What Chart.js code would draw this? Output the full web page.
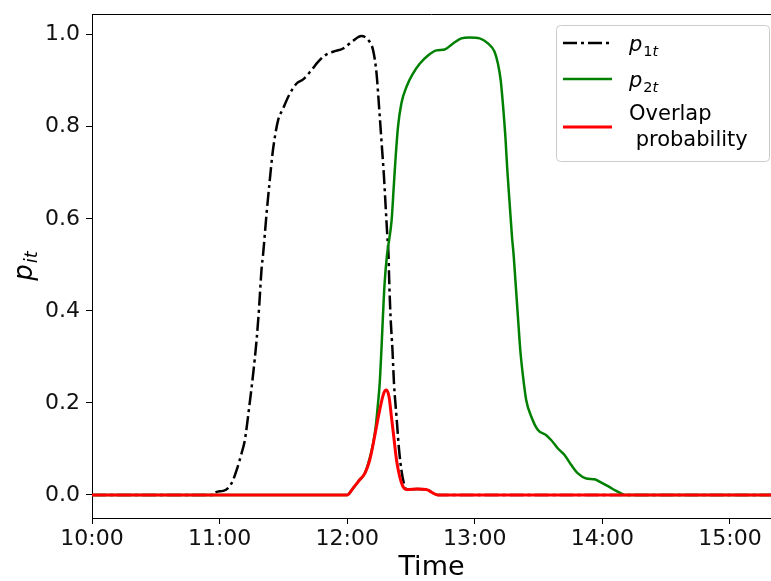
<!DOCTYPE html>
<html>
<head>
<meta charset="utf-8">
<script src="https://cdn.jsdelivr.net/npm/chart.js@4.4.0/dist/chart.umd.min.js"></script>
<style>
    html, body { margin: 0; padding: 0; background: #fff; }
    #wrap { width: 771px; height: 581px; }
</style>
</head>
<body>
<div id="wrap"><canvas id="pChart" width="771" height="581"></canvas></div>
<script>
// times are minutes after 10:00
const p1Times = [0, 57.3, 57.8, 61.7, 65.6, 68.0, 70.3, 71.9, 73.9, 75.8, 77.4, 78.6, 79.7, 80.5, 82.1, 83.6, 84.9, 86.0, 87.5, 89.9, 92.7, 96.2, 99.3, 103.2, 106.3, 109.5, 113.4, 118.1, 122.8, 126.7, 129.8, 132.2, 133.8, 135.0, 136.1, 137.2, 138.1, 138.9, 139.4, 139.8, 140.4, 141.3, 142.0, 143.2, 144.4, 145.5, 147.1, 148.1, 153.0, 157.2, 160.4, 162.6, 319.3];
const p1Values = [0, 0, 0.005, 0.009, 0.025, 0.054, 0.09, 0.12, 0.19, 0.264, 0.337, 0.409, 0.489, 0.525, 0.612, 0.684, 0.742, 0.778, 0.814, 0.840, 0.869, 0.894, 0.903, 0.923, 0.941, 0.955, 0.963, 0.970, 0.987, 0.997, 0.989, 0.966, 0.916, 0.843, 0.771, 0.699, 0.626, 0.561, 0.525, 0.460, 0.387, 0.315, 0.243, 0.170, 0.098, 0.054, 0.018, 0.012, 0.013, 0.012, 0.004, 0, 0];

const p2Times = [0, 120.0, 122.8, 125.9, 128.3, 130.6, 132.2, 133.4, 134.5, 135.3, 136.1, 136.8, 137.6, 138.7, 140.9, 141.9, 142.9, 143.9, 145.5, 147.9, 151.0, 154.1, 158.0, 162.0, 165.9, 169.8, 173.7, 177.6, 182.3, 186.2, 189.3, 190.9, 192.2, 193.2, 194.4, 195.3, 196.4, 197.5, 198.3, 199.2, 200.3, 201.4, 202.7, 204.2, 206.6, 209.7, 213.6, 216.0, 219.1, 222.2, 225.4, 228.5, 232.4, 236.3, 239.5, 243.4, 246.5, 249.6, 250.4, 319.3];
const p2Values = [0, 0, 0.015, 0.033, 0.047, 0.080, 0.112, 0.148, 0.199, 0.243, 0.315, 0.387, 0.460, 0.520, 0.597, 0.670, 0.742, 0.800, 0.851, 0.887, 0.916, 0.937, 0.955, 0.966, 0.968, 0.981, 0.992, 0.994, 0.992, 0.981, 0.963, 0.937, 0.901, 0.851, 0.778, 0.706, 0.633, 0.561, 0.520, 0.460, 0.387, 0.315, 0.257, 0.206, 0.170, 0.141, 0.130, 0.119, 0.101, 0.087, 0.065, 0.047, 0.036, 0.034, 0.027, 0.017, 0.009, 0.002, 0, 0];

const overlapTimes = [0, 120.0, 122.8, 125.9, 128.3, 130.6, 132.9, 135.3, 137.2, 138.4, 139.7, 140.8, 141.9, 143.2, 144.7, 146.3, 148.1, 153.2, 157.2, 160.4, 162.6, 319.3];
const overlapValues = [0, 0, 0.015, 0.033, 0.047, 0.076, 0.127, 0.185, 0.221, 0.228, 0.213, 0.170, 0.127, 0.076, 0.040, 0.018, 0.012, 0.013, 0.012, 0.004, 0, 0];

const xTickMinutes = [0, 60, 120, 180, 240, 300];
const yTickValues = [0, 0.2, 0.4, 0.6, 0.8, 1.0];

const FONT = "'DejaVu Sans', sans-serif";

function toPoints(times, values) {
    return times.map((t, i) => ({ x: t, y: values[i] }));
}

function clockLabel(m) {
    const h = 10 + Math.floor(m / 60);
    const mm = Math.round(m % 60);
    return h + ':' + String(mm).padStart(2, '0');
}

// draw italic p with subscript, returns width used
function drawMath(ctx, x, y, sub, size, subSize, shift) {
    ctx.font = 'italic ' + size + 'px ' + FONT;
    ctx.fillText('p', x, y);
    let w = ctx.measureText('p').width + 1;
    for (const ch of sub) {
        const upright = /[0-9]/.test(ch);
        ctx.font = (upright ? '' : 'italic ') + subSize + 'px ' + FONT;
        ctx.fillText(ch, x + w, y + shift);
        w += ctx.measureText(ch).width;
    }
    return w;
}

const extrasPlugin = {
    id: 'extras',
    afterDraw(chart) {
        const ctx = chart.ctx;
        const ca = chart.chartArea;
        ctx.save();

        // top spine
        ctx.strokeStyle = '#000';
        ctx.lineWidth = 1;
        ctx.beginPath();
        ctx.moveTo(ca.left, ca.top + 0.5);
        ctx.lineTo(ca.right, ca.top + 0.5);
        ctx.stroke();

        // y axis title p_it
        ctx.save();
        ctx.translate(31.5, (ca.top + ca.bottom) / 2);
        ctx.rotate(-Math.PI / 2);
        ctx.fillStyle = '#000';
        ctx.textBaseline = 'alphabetic';
        ctx.font = 'italic 26px ' + FONT;
        const pw = ctx.measureText('p').width + 1;
        ctx.font = 'italic 18px ' + FONT;
        const sw = ctx.measureText('it').width;
        drawMath(ctx, -(pw + sw) / 2, 0, 'it', 26, 18, 5);
        ctx.restore();

        // legend
        const bx = ca.right - 215, by = ca.top + 11, bw = 213, bh = 136;
        ctx.fillStyle = 'rgba(255,255,255,0.8)';
        ctx.strokeStyle = '#cccccc';
        ctx.lineWidth = 1;
        ctx.beginPath();
        ctx.roundRect(bx + 0.5, by + 0.5, bw, bh, 4);
        ctx.fill();
        ctx.stroke();

        const rows = [
            { ds: 0, lineY: by + 18, textY: by + 26, sub: '1t' },
            { ds: 1, lineY: by + 54, textY: by + 62, sub: '2t' },
            { ds: 2, lineY: by + 102, lines: ['Overlap', ' probability'], textY: by + 95 }
        ];
        rows.forEach(r => {
            const d = chart.data.datasets[r.ds];
            ctx.save();
            ctx.strokeStyle = d.borderColor;
            ctx.lineWidth = d.borderWidth;
            ctx.setLineDash(d.borderDash || []);
            ctx.beginPath();
            ctx.moveTo(bx + 7, r.lineY);
            ctx.lineTo(bx + 56, r.lineY);
            ctx.stroke();
            ctx.restore();
            ctx.fillStyle = '#000';
            ctx.textBaseline = 'alphabetic';
            if (r.sub) {
                drawMath(ctx, bx + 73, r.textY, r.sub, 21, 14.5, 4.5);
            } else {
                ctx.font = '21px ' + FONT;
                ctx.fillText(r.lines[0], bx + 73, r.textY);
                ctx.fillText(r.lines[1], bx + 73, r.textY + 26);
            }
        });
        ctx.restore();
    }
};

const ctx = document.getElementById('pChart').getContext('2d');
new Chart(ctx, {
    type: 'line',
    data: {
        datasets: [
            {
                label: 'p1t',
                data: toPoints(p1Times, p1Values),
                borderColor: '#000000',
                borderWidth: 2.5,
                borderDash: [14, 4, 3, 4],
                borderCapStyle: 'butt',
                pointRadius: 0,
                fill: false,
                cubicInterpolationMode: 'monotone',
                order: 3
            },
            {
                label: 'p2t',
                data: toPoints(p2Times, p2Values),
                borderColor: '#008000',
                borderWidth: 2.5,
                pointRadius: 0,
                fill: false,
                cubicInterpolationMode: 'monotone',
                order: 2
            },
            {
                label: 'Overlap probability',
                data: toPoints(overlapTimes, overlapValues),
                borderColor: '#ff0000',
                borderWidth: 3,
                pointRadius: 0,
                fill: false,
                cubicInterpolationMode: 'monotone',
                order: 1
            }
        ]
    },
    options: {
        responsive: false,
        animation: false,
        layout: {
            padding: { top: 14, right: 0, left: 0, bottom: 0 }
        },
        plugins: {
            legend: { display: false },
            tooltip: { enabled: false }
        },
        scales: {
            x: {
                type: 'linear',
                min: 0,
                max: 319.3,
                afterBuildTicks: scale => {
                    scale.ticks = xTickMinutes.map(v => ({ value: v }));
                },
                afterFit: scale => {
                    scale.height = 63;
                    scale.paddingLeft = 0;
                    scale.paddingRight = 0;
                },
                grid: {
                    drawOnChartArea: false,
                    drawTicks: true,
                    tickLength: 6,
                    color: '#000'
                },
                border: { display: true, color: '#000', width: 1 },
                ticks: {
                    color: '#111',
                    padding: 2,
                    maxRotation: 0,
                    autoSkip: false,
                    font: { family: FONT, size: 22 },
                    callback: function (value) {
                        return clockLabel(value);
                    }
                },
                title: {
                    display: true,
                    text: 'Time',
                    color: '#000',
                    padding: 0,
                    font: { family: FONT, size: 27, lineHeight: 1 }
                }
            },
            y: {
                min: -0.05,
                max: 1.045,
                afterBuildTicks: scale => {
                    scale.ticks = yTickValues.map(v => ({ value: v }));
                },
                afterFit: scale => {
                    scale.width = 92;
                    scale.paddingTop = 0;
                    scale.paddingBottom = 0;
                },
                grid: {
                    drawOnChartArea: false,
                    drawTicks: true,
                    tickLength: 6,
                    color: '#000'
                },
                border: { display: true, color: '#000', width: 1 },
                ticks: {
                    color: '#111',
                    padding: 6,
                    font: { family: FONT, size: 22 },
                    callback: function (value) {
                        return value.toFixed(1);
                    }
                }
            }
        }
    },
    plugins: [extrasPlugin]
});
</script>
</body>
</html>
